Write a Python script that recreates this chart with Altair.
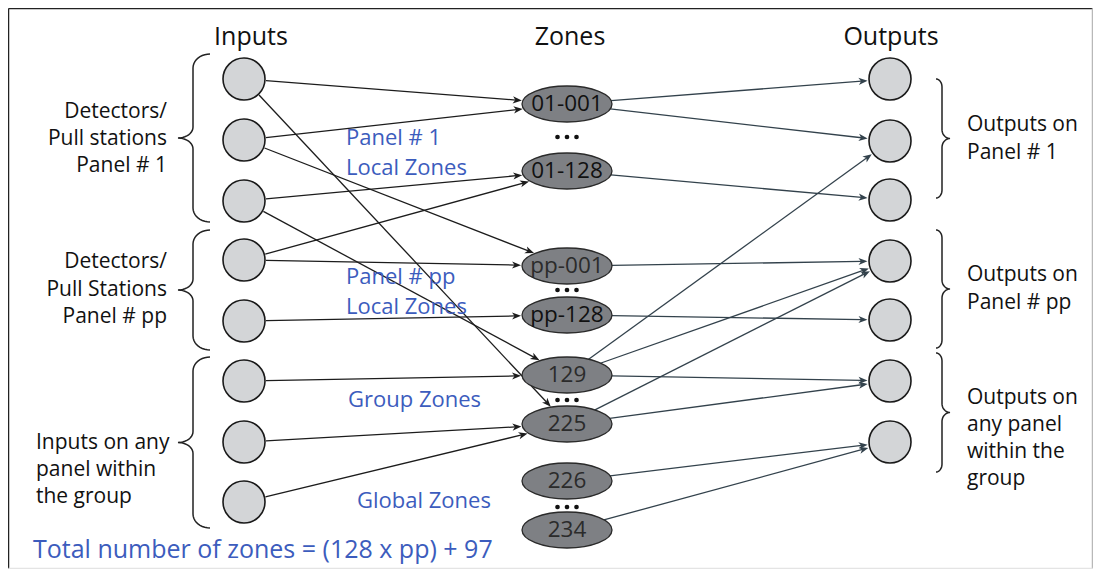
import math
import altair as alt
import pandas as pd

# ---------------- data ----------------
INPUT_X, ZONE_X, OUTPUT_X = 244, 567, 890
input_y = [79, 140, 201, 260, 321, 381, 442, 502]
output_y = [79, 141, 200, 261, 320, 381, 442]
zone_labels = ["01-001", "01-128", "pp-001", "pp-128", "129", "225", "226", "234"]
zone_y = [104, 171, 266, 315, 375, 424, 481, 530]
zone_text_color = ["#111111", "#111111", "#2b2b2b", "#111111", "#2b2b2b", "#2b2b2b", "#2b2b2b", "#2b2b2b"]
dots_y = [137, 290, 400, 507]
dot_offsets = [-9.5, 0, 9.5]

in_edge_src = [0, 0, 1, 1, 2, 2, 3, 3, 4, 5, 6, 7]
in_edge_dst = ["01-001", "225", "01-001", "pp-001", "01-128", "129", "01-128", "pp-001", "pp-128", "129", "225", "225"]
out_edge_src = ["01-001", "01-001", "01-128", "pp-001", "pp-128", "129", "129", "129", "225", "225", "226", "234"]
out_edge_dst = [0, 1, 2, 3, 4, 1, 3, 5, 3, 5, 6, 6]

headers = ["Inputs", "Zones", "Outputs"]
header_x = [251, 570, 891]
header_y = [37, 37, 37]

left_text = ["Detectors/", "Pull stations", "Panel # 1", "Detectors/", "Pull Stations", "Panel # pp"]
left_text_y = [112, 139, 166, 262, 290, 317]
left_text_x = 167
group_text = ["Inputs on any", "panel within", "the group"]
group_text_y = [443, 470, 497]
group_text_x = 36
right_text = ["Outputs on", "Panel # 1", "Outputs on", "Panel # pp", "Outputs on", "any panel", "within the", "group"]
right_text_y = [125, 153, 275, 303, 398, 425, 452, 479]
right_text_x = 967
blue_text = ["Panel # 1", "Local Zones", "Panel # pp", "Local Zones", "Group Zones", "Global Zones"]
blue_text_x = [346, 346, 346, 346, 348, 357]
blue_text_y = [138, 168, 277, 307, 400, 501]
total_text = ["Total number of zones = (128 x pp) + 97"]
total_x = [33]
total_y = [550]

# braces: (y top, y bottom)
left_brace_spans = [(54, 222), (230, 350), (357, 528)]
right_brace_spans = [(79, 198), (230, 348), (353, 472)]

FONT = "Open Sans"
BLUE = "#3c5cbd"

# ---------------- geometry helpers ----------------
R_IN, R_OUT = 22, 22.5
ZA, ZB = 46, 18.5
zone_pos = dict(zip(zone_labels, zone_y))


def circ_edge(cx, cy, tx, ty, r):
    dx, dy = tx - cx, ty - cy
    d = math.hypot(dx, dy)
    return cx + r * dx / d, cy + r * dy / d


def ell_edge(cx, cy, tx, ty, a, b):
    dx, dy = tx - cx, ty - cy
    t = 1 / math.sqrt((dx / a) ** 2 + (dy / b) ** 2)
    return cx + t * dx, cy + t * dy


edge_rows, head_rows = [], []


def add_edge(sx, sy, ex, ey, grp):
    ang = math.atan2(ey - sy, ex - sx)
    L = 6
    edge_rows.append(dict(x=sx, y=sy, x2=ex - L * math.cos(ang), y2=ey - L * math.sin(ang), g=grp))
    head_rows.append(dict(x=ex, y=ey, ang=math.degrees(ang) % 360, g=grp))


for s, d in zip(in_edge_src, in_edge_dst):
    cy_s, cy_d = input_y[s], zone_pos[d]
    sx, sy = circ_edge(INPUT_X, cy_s, ZONE_X, cy_d, R_IN)
    ex, ey = ell_edge(ZONE_X, cy_d, INPUT_X, cy_s, ZA, ZB)
    add_edge(sx, sy, ex, ey, "in")

for s, d in zip(out_edge_src, out_edge_dst):
    cy_s, cy_d = zone_pos[s], output_y[d]
    sx, sy = ell_edge(ZONE_X, cy_s, OUTPUT_X, cy_d, ZA - 1, ZB - 1)
    ex, ey = circ_edge(OUTPUT_X, cy_d, ZONE_X, cy_s, R_OUT)
    add_edge(sx, sy, ex, ey, "out")

edges = pd.DataFrame(edge_rows)
heads = pd.DataFrame(head_rows)


def brace(x_end, x_spine, x_point, y0, y1, r_end=14, r_mid=11, n=10):
    ym = (y0 + y1) / 2
    pts = []
    for k in range(n + 1):
        th = k / n * math.pi / 2
        pts.append((x_end + (x_spine - x_end) * math.sin(th), y0 + r_end * (1 - math.cos(th))))
    for k in range(n + 1):
        th = k / n * math.pi / 2
        pts.append((x_point + (x_spine - x_point) * math.cos(th), ym - r_mid + r_mid * math.sin(th)))
    for k in range(n + 1):
        th = k / n * math.pi / 2
        pts.append((x_point + (x_spine - x_point) * math.sin(th), ym + r_mid - r_mid * math.cos(th)))
    for k in range(n + 1):
        th = k / n * math.pi / 2
        pts.append((x_spine + (x_end - x_spine) * (1 - math.cos(th)), y1 - r_end + r_end * math.sin(th)))
    return pts


brace_rows = []
bid = 0
for (y0, y1) in left_brace_spans:
    for i, (x, y) in enumerate(brace(210, 193, 178, y0, y1)):
        brace_rows.append(dict(x=x, y=y, b=bid, o=i))
    bid += 1
for (y0, y1) in right_brace_spans:
    for i, (x, y) in enumerate(brace(936, 942, 950, y0, y1, r_end=8, r_mid=9)):
        brace_rows.append(dict(x=x, y=y, b=bid, o=i))
    bid += 1
braces = pd.DataFrame(brace_rows)

# ---------------- scales ----------------
XS = alt.Scale(domain=[8, 1093], nice=False, zero=False)
YS = alt.Scale(domain=[8, 569], nice=False, zero=False, reverse=True)


def X(f="x"):
    return alt.X(f"{f}:Q", scale=XS, axis=None)


def Y(f="y"):
    return alt.Y(f"{f}:Q", scale=YS, axis=None)


frame = pd.DataFrame({"x": [8.5, 8.5, 1092.5, 8.5], "y": [8.5, 8.5, 8.5, 568.5],
                      "x2": [8.5, 1092.5, 1092.5, 1092.5], "y2": [568.5, 8.5, 568.5, 568.5],
                      "c": ["#222222", "#222222", "#b8b8b8", "#e4e4e4"]})
frame_layer = alt.Chart(frame).mark_rule(strokeWidth=1.5).encode(
    x=X(), y=Y(), x2="x2:Q", y2="y2:Q", color=alt.Color("c:N", scale=None))

edge_color = alt.Color("g:N", scale=alt.Scale(domain=["in", "out"], range=["#1c1c1c", "#33424c"]), legend=None)
edge_layer = alt.Chart(edges).mark_rule(strokeWidth=1.3).encode(
    x=X(), y=Y(), x2="x2:Q", y2="y2:Q", color=edge_color)

ARROW = "M0,0 L-2,-0.8 L-1.45,0 L-2,0.8 Z"
head_layer = alt.Chart(heads).mark_point(shape=ARROW, filled=True, size=81, opacity=1).encode(
    x=X(), y=Y(), angle=alt.Angle("ang:Q", scale=None), color=edge_color)

inputs_df = pd.DataFrame({"x": [INPUT_X] * len(input_y), "y": input_y})
outputs_df = pd.DataFrame({"x": [OUTPUT_X] * len(output_y), "y": output_y})
circles_df = pd.concat([inputs_df, outputs_df], ignore_index=True)
circle_layer = alt.Chart(circles_df).mark_point(
    shape="circle", filled=True, size=1764, fill="#d3d5d7", stroke="#1a1a1a", strokeWidth=1.6, opacity=1
).encode(x=X(), y=Y())

ELLIPSE = ("M-1,0 C-1,-0.2209 -0.5523,-0.4 0,-0.4 C0.5523,-0.4 1,-0.2209 1,0 "
           "C1,0.2209 0.5523,0.4 0,0.4 C-0.5523,0.4 -1,0.2209 -1,0 Z")
zones_df = pd.DataFrame({"x": [ZONE_X] * len(zone_y), "y": zone_y, "label": zone_labels, "tc": zone_text_color})
zone_layer = alt.Chart(zones_df).mark_point(
    shape=ELLIPSE, filled=True, size=8100, fill="#7e8084", stroke="#2a2a2a", strokeWidth=1.3, opacity=1
).encode(x=X(), y=Y())
zone_text_layer = alt.Chart(zones_df).mark_text(font=FONT, fontSize=22.5, baseline="middle", align="center").encode(
    x=X(), y=Y(), text="label:N", color=alt.Color("tc:N", scale=None))

dots_df = pd.DataFrame([{"x": ZONE_X + o, "y": yy} for yy in dots_y for o in dot_offsets])
dots_layer = alt.Chart(dots_df).mark_point(shape="circle", filled=True, size=22, color="#111111",
                                           opacity=1).encode(x=X(), y=Y())

brace_layer = alt.Chart(braces).mark_line(color="#222222", strokeWidth=1.5).encode(
    x=X(), y=Y(), detail="b:N", order="o:Q")

hdr_df = pd.DataFrame({"x": header_x, "y": header_y, "t": headers})
hdr_layer = alt.Chart(hdr_df).mark_text(font=FONT, fontSize=25, color="#111111", baseline="middle",
                                        align="center").encode(x=X(), y=Y(), text="t:N")

left_df = pd.DataFrame({"x": [left_text_x] * len(left_text), "y": left_text_y, "t": left_text})
left_layer = alt.Chart(left_df).mark_text(font=FONT, fontSize=21, color="#111111", baseline="middle",
                                          align="right").encode(x=X(), y=Y(), text="t:N")
group_df = pd.DataFrame({"x": [group_text_x] * len(group_text), "y": group_text_y, "t": group_text})
group_layer = alt.Chart(group_df).mark_text(font=FONT, fontSize=21, color="#111111", baseline="middle",
                                            align="left").encode(x=X(), y=Y(), text="t:N")
right_df = pd.DataFrame({"x": [right_text_x] * len(right_text), "y": right_text_y, "t": right_text})
right_layer = alt.Chart(right_df).mark_text(font=FONT, fontSize=21, color="#111111", baseline="middle",
                                            align="left").encode(x=X(), y=Y(), text="t:N")
blue_df = pd.DataFrame({"x": blue_text_x, "y": blue_text_y, "t": blue_text})
blue_layer = alt.Chart(blue_df).mark_text(font=FONT, fontSize=22, color=BLUE, baseline="middle",
                                          align="left").encode(x=X(), y=Y(), text="t:N")
total_df = pd.DataFrame({"x": total_x, "y": total_y, "t": total_text})
total_layer = alt.Chart(total_df).mark_text(font=FONT, fontSize=25, color=BLUE, baseline="middle",
                                            align="left").encode(x=X(), y=Y(), text="t:N")

chart = alt.layer(
    frame_layer, edge_layer, head_layer, brace_layer, circle_layer, zone_layer, zone_text_layer,
    dots_layer, hdr_layer, left_layer, group_layer, right_layer, blue_layer, total_layer
).properties(
    width=1085, height=561, padding=0, background="white",
    autosize=alt.AutoSizeParams(type="none")
).configure_view(stroke=None)

chart.save("out.html", embed_options={"renderer": "svg", "actions": False})
